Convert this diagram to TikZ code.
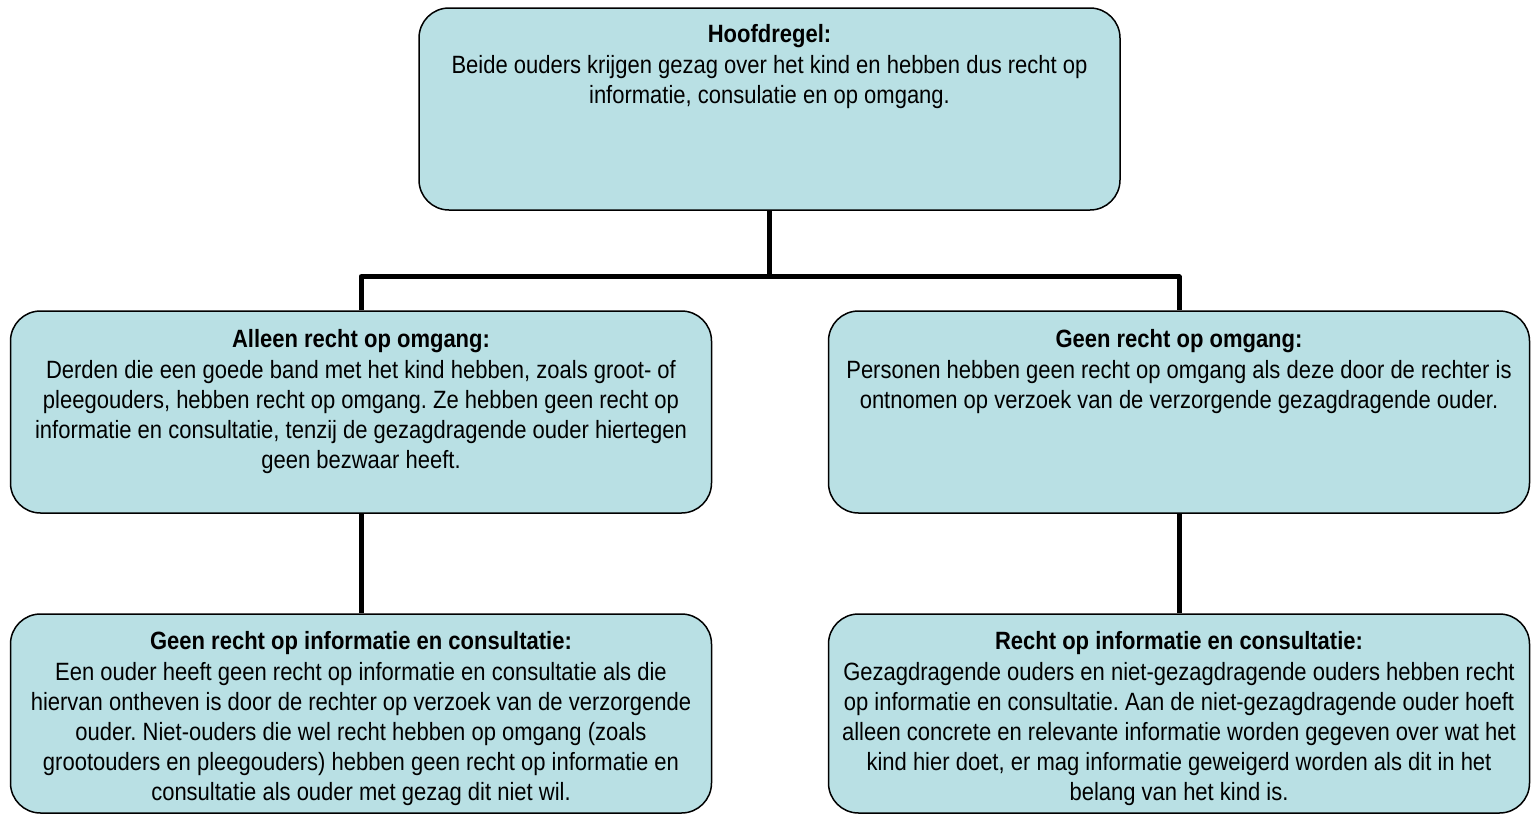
\documentclass[tikz,border=0pt]{standalone}
\usepackage{fontspec}
\setmainfont[FakeStretch=0.88]{Liberation Sans}
\frenchspacing
\definecolor{boxfill}{RGB}{185,224,228}
\begin{document}
\begin{tikzpicture}[x=1pt,y=-1pt,line join=round,
    kader/.style={draw=black,line width=1.5pt,fill=boxfill,rounded corners=30pt,
      minimum width=701pt,minimum height=202pt,inner sep=0pt},
    tekst/.style={anchor=north,align=center,inner sep=0pt,
      font=\fontsize{25}{30}\selectfont},
    lijn/.style={line width=5pt}]
  \useasboundingbox (0,0) rectangle (1535,814);
  % boxes
  \node[kader] (hoofd) at (769.5,109) {};
  \node[kader] (alleen) at (361,412) {};
  \node[kader] (geen) at (1179,412) {};
  \node[kader,minimum height=199pt] (geeninfo) at (361,713.5) {};
  \node[kader,minimum height=199pt] (info) at (1179,713.5) {};
  % connectors
  \draw[lijn] (hoofd.south) -- ++(0,66) coordinate (split);
  \draw[lijn] (alleen.north) |- (split) -| (geen.north);
  \draw[lijn] (alleen.south) -- (geeninfo.north);
  \draw[lijn] (geen.south) -- (info.north);
  % texts
  \node[tekst] (t-hoofd) at (769.5,24) {\textbf{Hoofdregel:}\\[1pt]
    Beide ouders krijgen gezag over het kind en hebben dus recht op\\
    informatie, consulatie en op omgang.};
  \node[tekst] (t-alleen) at (361,329) {\textbf{Alleen recht op omgang:}\\[1pt]
    Derden die een goede band met het kind hebben, zoals groot- of\\
    pleegouders, hebben recht op omgang. Ze hebben geen recht op\\
    informatie en consultatie, tenzij de gezagdragende ouder hiertegen\\
    geen bezwaar heeft.};
  \node[tekst] (t-geen) at (1179,329) {\textbf{Geen recht op omgang:}\\[1pt]
    Personen hebben geen recht op omgang als deze door de rechter is\\
    ontnomen op verzoek van de verzorgende gezagdragende ouder.};
  \node[tekst] (t-geeninfo) at (361,631) {\textbf{Geen recht op informatie en consultatie:}\\[1pt]
    Een ouder heeft geen recht op informatie en consultatie als die\\
    hiervan ontheven is door de rechter op verzoek van de verzorgende\\
    ouder. Niet-ouders die wel recht hebben op omgang (zoals\\
    grootouders en pleegouders) hebben geen recht op informatie en\\
    consultatie als ouder met gezag dit niet wil.};
  \node[tekst] (t-info) at (1179,631) {\textbf{Recht op informatie en consultatie:}\\[1pt]
    Gezagdragende ouders en niet-gezagdragende ouders hebben recht\\
    op informatie en consultatie. Aan de niet-gezagdragende ouder hoeft\\
    alleen concrete en relevante informatie worden gegeven over wat het\\
    kind hier doet, er mag informatie geweigerd worden als dit in het\\
    belang van het kind is.};
\end{tikzpicture}
\end{document}
